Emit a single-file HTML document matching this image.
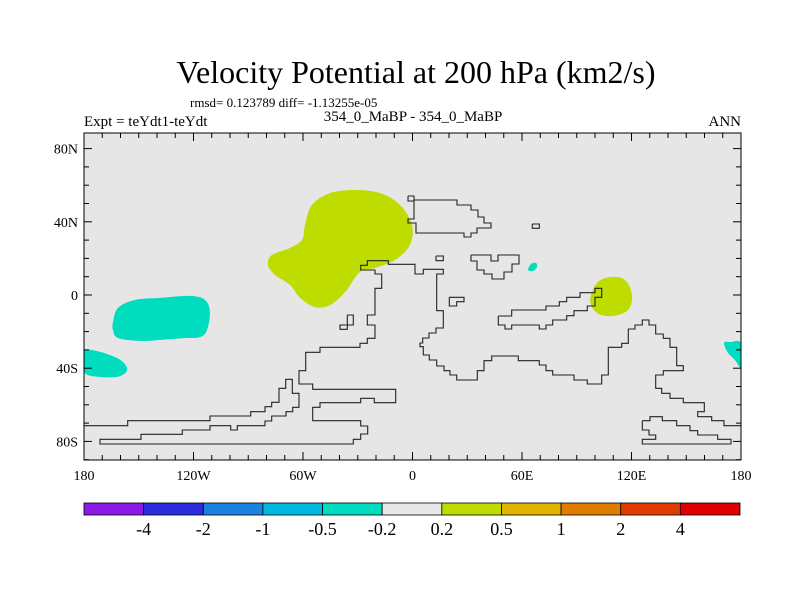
<!DOCTYPE html>
<html>
<head>
<meta charset="utf-8">
<style>
html,body{margin:0;padding:0;background:#fff;}
svg text{font-family:"Liberation Serif","DejaVu Serif",serif;fill:#000;}
</style>
</head>
<body>
<svg id="chart" width="800" height="600" viewBox="0 0 800 600" xmlns="http://www.w3.org/2000/svg">
  <rect x="0" y="0" width="800" height="600" fill="#fff"/>
  <text x="416" y="83" font-size="32" text-anchor="middle">Velocity Potential at 200 hPa (km2/s)</text>
  <text x="190" y="107" font-size="13">rmsd= 0.123789 diff= -1.13255e-05</text>
  <text x="84" y="126" font-size="15">Expt = teYdt1-teYdt</text>
  <text x="413" y="121" font-size="15" text-anchor="middle">354_0_MaBP - 354_0_MaBP</text>
  <text x="741" y="126" font-size="15" text-anchor="end">ANN</text>
  <g id="plot"></g>
  <g id="colorbar"></g>
</svg>
<script>
// ---- data ----
const lonTicks = [-180,-120,-60,0,60,120,180];
const lonLabels = ["180","120W","60W","0","60E","120E","180"];
const latTicks = [80,40,0,-40,-80];
const latLabels = ["80N","40N","0","40S","80S"];
const levelLabels = ["-4","-2","-1","-0.5","-0.2","0.2","0.5","1","2","4"];
const levelColors = ["#8c1ae6","#2d2de0","#1a82e0","#00b8e0","#00dcbe","#e8e8e8","#bedc00","#e0b400","#e07c00","#e03c00","#e00000"];
// contour blobs: [lon,lat] pairs and fill level index
const blobAtlantic = [[-58.9,38.3],[-55.1,49.2],[-45.2,55.7],[-31.5,57.4],[-17.8,55.7],[-6.8,49.2],[-0.3,38.3],[-1.4,27.3],[-9.6,19.1],[-20.5,14.8],[-28.8,12.6],[-37,1.6],[-45.2,-5.5],[-53.4,-6.6],[-61.6,-1.6],[-67.1,5.5],[-75.3,10.9],[-79.2,16.4],[-77,21.9],[-67.1,25.7],[-60.5,30.1]];
const blobIndonesia = [[101.1,6.6],[108.2,9.8],[116.4,8.2],[120.3,0],[118.1,-8.2],[109.3,-11.5],[101.1,-9.8],[97.3,-2.7]];
const blobPacific = [[-164.1,-14.8],[-161.4,-7.1],[-152.1,-2.7],[-138.4,-1.6],[-122,-0.5],[-113.7,-2.7],[-111,-9.3],[-112.6,-19.1],[-116.4,-23],[-124.7,-23.5],[-138.4,-24.6],[-149.3,-25.1],[-161.4,-23.5],[-164.1,-19.1]];
const blobSouthWest = [[-180,-30.1],[-163,-33.9],[-156.4,-39.9],[-160.3,-44.3],[-171.2,-44.8],[-180,-42.1]];
const blobSouthEast = [[180,-26.2],[174,-25.7],[170.7,-26.2],[172.9,-31.7],[176.7,-35.5],[180,-39.3]];
const blobArabia = [[63.3,13.7],[64.9,16.9],[67.7,17.5],[68.2,15.3],[66,13.1]];
const blobs = [
  {name:"positive-contour-atlantic", pts:blobAtlantic, lvl:6},
  {name:"positive-contour-indonesia", pts:blobIndonesia, lvl:6},
  {name:"negative-contour-pacific", pts:blobPacific, lvl:4},
  {name:"negative-contour-southwest", pts:blobSouthWest, lvl:4},
  {name:"negative-contour-southeast", pts:blobSouthEast, lvl:4},
  {name:"negative-contour-arabia", pts:blobArabia, lvl:4}
];

// ---- layout ----
const X0=84, X1=741, Y0=133, Y1=460;
const lat0px=295, latScale=1.83;
function xs(lon){return X0+(lon+180)/360*(X1-X0);}
function ys(lat){return lat0px-lat*latScale;}
const NS="http://www.w3.org/2000/svg";
function mk(tag,attrs,parent){const e=document.createElementNS(NS,tag);for(const k in attrs)e.setAttribute(k,attrs[k]);parent.appendChild(e);return e;}
const plot=document.getElementById('plot');
const cb=document.getElementById('colorbar');

const bg=mk('rect',{x:X0,y:Y0,width:X1-X0,height:Y1-Y0,fill:'#e6e6e6'},plot);



const defs=mk('defs',{},plot);
const cp=mk('clipPath',{id:'clip'},defs);
mk('rect',{x:X0,y:Y0,width:X1-X0,height:Y1-Y0},cp);
const inner=mk('g',{'clip-path':'url(#clip)'},plot);

function smooth(p){
  const n=p.length;let d=`M${p[0][0]},${p[0][1]}`;
  for(let i=0;i<n;i++){
    const a=p[(i-1+n)%n],b=p[i],c=p[(i+1)%n],e=p[(i+2)%n];
    const c1=[b[0]+(c[0]-a[0])/6,b[1]+(c[1]-a[1])/6];
    const c2=[c[0]-(e[0]-b[0])/6,c[1]-(e[1]-b[1])/6];
    d+=` C${c1[0]},${c1[1]} ${c2[0]},${c2[1]} ${c[0]},${c[1]}`;
  }
  return d+'Z';
}
blobs.forEach(b=>{
  const pts=b.pts.map(q=>[xs(q[0]),ys(q[1])]);
  const el=mk('path',{d:smooth(pts),fill:levelColors[b.lvl]},inner);
  
  
});

const coasts=[
 [408,196,414,196,414,200,457,200,457,205,471,205,471,210,478,210,478,217,484,217,484,223,491,223,491,228,477,228,477,233,471,233,471,237,464,237,464,233,416,233,416,223,408,223,408,219,414,219,414,201,408,201,408,196],
 [741,425.7,724,425.7,724,420.7,711.7,420.7,711.7,416.7,697.7,416.7,697.7,411.7,704.3,411.7,704.3,402.7,683.3,402.7,683.3,398.3,670,398.3,670,393.3,661.7,393.3,661.7,388.3,655.7,388.3,655.7,375,663.3,375,663.3,370.7,683.3,370.7,683.3,365.7,676.7,365.7,676.7,347.3,670,347.3,670,338.3,663.3,338.3,663.3,334,655.7,334,655.7,325,649,325,649,320,642.3,320,642.3,325,635,325,635,329,628.3,329,628.3,343.3,621.7,343.3,621.7,347.3,608.3,347.3,608.3,375,601.7,375,601.7,384,587.3,384,587.3,380,574,380,574,375,552.7,375,552.7,370.7,546,370.7,546,365,539.3,365,539.3,360.7,518.3,360.7,518.3,356,491.7,356,491.7,360.7,484,360.7,484,370.7,477.3,370.7,477.3,380,456.7,380,456.7,375,450,375,450,370.7,444,370.7,444,366,436.7,366,436.7,360,429.3,360,429.3,355,423.3,355,423.3,346.7,420,346.7,420,343,422.7,343,422.7,338,429,338,429,333,436,333,436,328,443.3,328,443.3,310.7,436.7,310.7,436.7,274,443.3,274,443.3,269.3,423.3,269.3,423.3,274,415,274,415,264.3,388.3,264.3,388.3,260.7,367.3,260.7,367.3,265.3,360.7,265.3,360.7,270,375,270,375,274,381.7,274,381.7,288.3,375,288.3,375,315,367.3,315,367.3,325,375,325,375,338.3,367.3,338.3,367.3,343.3,360,343.3,360,347.3,320,347.3,320,352.3,305.7,352.3,305.7,370.7,299,370.7,299,384,312.7,384,312.7,389.3,395.7,389.3,395.7,402.7,374.3,402.7,374.3,398.3,360.7,398.3,360.7,402.7,320,402.7,320,407.3,312.7,407.3,312.7,420.7,360.7,420.7,360.7,426,367.7,426,367.7,434,360.7,434,360.7,439.3,353.3,439.3,353.3,444,100,444,100,439.3,141,439.3,141,434.3,182.3,434.3,182.3,430,210,430,210,425.7,230.7,425.7,230.7,430,237.3,430,237.3,425.7,265,425.7,265,421,271.7,421,271.7,416,286,416,286,411.7,292.7,411.7,292.7,407.3,299,407.3,299,393.3,292.3,393.3,292.3,379.3,285.7,379.3,285.7,388.3,279,388.3,279,402.3,271.7,402.3,271.7,406.7,265,406.7,265,411.7,250.7,411.7,250.7,416,210,416,210,420.7,127.7,420.7,127.7,425.7,84,425.7],
 [347.3,315,353.3,315,353.3,325,347.3,325,347.3,329.3,340,329.3,340,325,347.3,325,347.3,315],
 [449.3,297.3,464,297.3,464,301.7,456.7,301.7,456.7,306,449.3,306,449.3,297.3],
 [436,256,443.3,256,443.3,260.7,436,260.7,436,256],
 [532.3,224,539.3,224,539.3,228.3,532.3,228.3,532.3,224],
 [471,255,491,255,491,261,498,261,498,255,519,255,519,264,512,264,512,272,504,272,504,279,492,279,492,274,484,274,484,270,477,270,477,261,471,261,471,255],
 [498.3,316,498.3,325,505,325,505,329,511.7,329,511.7,325,539.3,325,539.3,329,546,329,546,325,552.7,325,552.7,320,566.7,320,566.7,315.7,574,315.7,574,310.7,587.3,310.7,587.3,306,595,306,595,297.3,601.7,297.3,601.7,288.3,595,288.3,595,292.7,580,292.7,580,297.3,566.7,297.3,566.7,301.7,559.3,301.7,559.3,306,546,306,546,310,511.7,310,511.7,316,498.3,316],
 [642.3,420.7,650,420.7,650,416.7,662.3,416.7,662.3,420.7,676.7,420.7,676.7,425.7,690,425.7,690,430.7,697.7,430.7,697.7,435,717.7,435,717.7,439.3,731,439.3,731,444,642.3,444,642.3,439.3,655.7,439.3,655.7,435,649,435,649,430,642.3,430,642.3,420.7]
];
coasts.forEach((c,i)=>{
  let pts=[];for(let k=0;k<c.length;k+=2)pts.push(c[k]+','+c[k+1]);
  const el=mk('polyline',{points:pts.join(' '),fill:'none',stroke:'#222','stroke-width':1.1},inner);
  
  
});

const fr=mk('rect',{x:X0,y:Y0,width:X1-X0,height:Y1-Y0,fill:'none',stroke:'#000','stroke-width':1},plot);



for(let lon=-180;lon<=180;lon+=10){
  const maj=lon%60===0, L=maj?8:5, x=xs(lon);
  mk('line',{x1:x,y1:Y1,x2:x,y2:Y1-L,stroke:'#000','stroke-width':1},plot);
  mk('line',{x1:x,y1:Y0,x2:x,y2:Y0+L,stroke:'#000','stroke-width':1},plot);
}
for(let lat=-90;lat<=90;lat+=10){
  const y=ys(lat); if(y<Y0-0.5||y>Y1+0.5)continue;
  const maj=lat%40===0, L=maj?8:5;
  mk('line',{x1:X0,y1:y,x2:X0+L,y2:y,stroke:'#000','stroke-width':1},plot);
  mk('line',{x1:X1,y1:y,x2:X1-L,y2:y,stroke:'#000','stroke-width':1},plot);
}
lonTicks.forEach((lon,i)=>{
  const t=mk('text',{x:xs(lon),y:480,'font-size':14,'text-anchor':'middle'},plot);
  t.textContent=lonLabels[i];
  
  
});
latTicks.forEach((lat,i)=>{
  const t=mk('text',{x:78,y:ys(lat)+5,'font-size':14,'text-anchor':'end'},plot);
  t.textContent=latLabels[i];
  
  
});

const CB0=84, CB1=740, CBY=503, CBH=12, n=levelColors.length, w=(CB1-CB0)/n;
levelColors.forEach((c,i)=>{
  const r=mk('rect',{x:CB0+i*w,y:CBY,width:w,height:CBH,fill:c,stroke:'#000','stroke-width':0.8},cb);
  
  
});
levelLabels.forEach((s,i)=>{
  const t=mk('text',{x:CB0+(i+1)*w,y:535,'font-size':18,'text-anchor':'middle'},cb);
  t.textContent=s;
  
  
});
</script>
</body>
</html>
